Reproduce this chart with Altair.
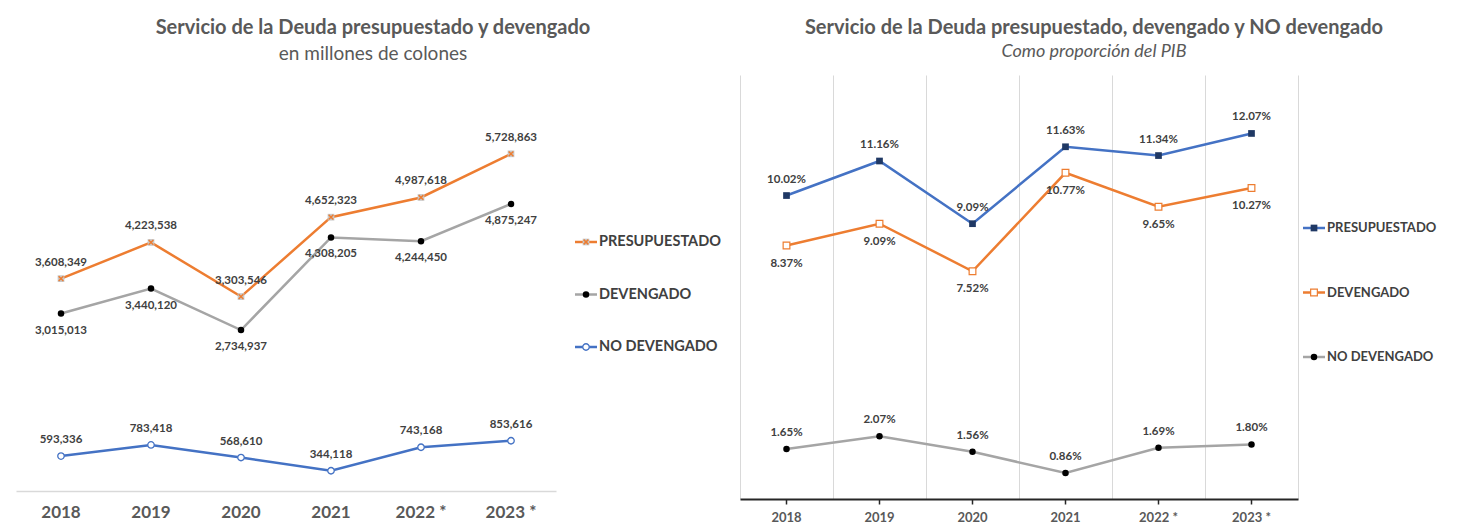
import altair as alt
import pandas as pd

years = ["2018", "2019", "2020", "2021", "2022 *", "2023 *"]
series = ["PRESUPUESTADO", "DEVENGADO", "NO DEVENGADO"]

pres_mill = [3608349, 4223538, 3303546, 4652323, 4987618, 5728863]
dev_mill = [3015013, 3440120, 2734937, 4308205, 4244450, 4875247]
nodev_mill = [593336, 783418, 568610, 344118, 743168, 853616]

pres_pib = [10.02, 11.16, 9.09, 11.63, 11.34, 12.07]
dev_pib = [8.37, 9.09, 7.52, 10.77, 9.65, 10.27]
nodev_pib = [1.65, 2.07, 1.56, 0.86, 1.69, 1.80]

FONT = "Lato, sans-serif"
LABEL_COLOR = "#404040"
TITLE_COLOR = "#595959"


def long_df(vals_list):
    rows = []
    for s, vals in zip(series, vals_list):
        for y, v in zip(years, vals):
            rows.append({"year": y, "series": s, "value": v})
    return pd.DataFrame(rows)


dfL = long_df([pres_mill, dev_mill, nodev_mill])
dfL["label"] = dfL["value"].map(lambda v: f"{v:,.0f}")
dfR = long_df([pres_pib, dev_pib, nodev_pib])
dfR["label"] = dfR["value"].map(lambda v: f"{v:.2f}%")
dfLeg = pd.DataFrame({"series": series})

is_p = alt.datum.series == "PRESUPUESTADO"
is_d = alt.datum.series == "DEVENGADO"
is_n = alt.datum.series == "NO DEVENGADO"

txt_style = dict(font=FONT, fontSize=11.5, fontWeight="bold", color=LABEL_COLOR)

# ---------------- LEFT PANEL ----------------
colorL = alt.Color("series:N", scale=alt.Scale(domain=series, range=["#ED7D31", "#A5A5A5", "#4472C4"]), legend=None)
xL = alt.X("year:N", sort=years, scale=alt.Scale(type="band", paddingInner=0, paddingOuter=0), bandPosition=0.5,
           axis=alt.Axis(title=None, labelAngle=0, ticks=False, grid=False, domainColor="#D9D9D9", domainWidth=1.5,
                         labelFont=FONT, labelFontSize=17, labelFontWeight="bold", labelColor=TITLE_COLOR,
                         labelPadding=13))
yL = alt.Y("value:Q", scale=alt.Scale(domain=[0, 7068000], nice=False, zero=True), axis=None)
baseL = alt.Chart(dfL).encode(x=xL, y=yL)

lineL = baseL.mark_line(strokeWidth=2.5).encode(color=colorL, detail="series:N")
pL1 = baseL.transform_filter(is_p).mark_point(shape="square", filled=True, size=45, color="#C8C8C8", opacity=1)
pL1x = baseL.transform_filter(is_p).mark_point(shape="M-1,-1L1,1M1,-1L-1,1", size=22, filled=False,
                                                stroke="#ED7D31", strokeWidth=1.5, opacity=1)
pL2 = baseL.transform_filter(is_d).mark_point(shape="circle", filled=True, size=42, color="black", opacity=1)
pL3 = baseL.transform_filter(is_n).mark_point(shape="circle", filled=True, size=42, fill="white",
                                               stroke="#4472C4", strokeWidth=1.3, opacity=1)
tL1 = baseL.transform_filter(is_p).mark_text(dy=-16, **txt_style).encode(text="label:N")
tL2 = baseL.transform_filter(is_d).mark_text(dy=17, **txt_style).encode(text="label:N")
tL3 = baseL.transform_filter(is_n).mark_text(dy=-16, **txt_style).encode(text="label:N")

leftMain = alt.layer(lineL, pL1, pL1x, pL2, pL3, tL1, tL2, tL3).properties(width=540, height=416)

legYL = alt.Y("series:N", sort=series,
              scale=alt.Scale(type="point", domain=series, range=[167, 272], padding=0), axis=None)
legL_base = alt.Chart(dfLeg).encode(y=legYL)
lgL_rule = legL_base.mark_rule(strokeWidth=2.5).encode(x=alt.value(9), x2=alt.value(31), color=colorL)
lgL_p1 = legL_base.transform_filter(is_p).mark_point(shape="square", filled=True, size=45, color="#C8C8C8", opacity=1).encode(x=alt.value(20))
lgL_p1x = legL_base.transform_filter(is_p).mark_point(shape="M-1,-1L1,1M1,-1L-1,1", size=22, filled=False,
                                                       stroke="#ED7D31", strokeWidth=1.5, opacity=1).encode(x=alt.value(20))
lgL_p2 = legL_base.transform_filter(is_d).mark_point(shape="circle", filled=True, size=42, color="black", opacity=1).encode(x=alt.value(20))
lgL_p3 = legL_base.transform_filter(is_n).mark_point(shape="circle", filled=True, size=42, fill="white",
                                                      stroke="#4472C4", strokeWidth=1.3, opacity=1).encode(x=alt.value(20))
lgL_t = legL_base.mark_text(align="left", font=FONT, fontSize=14.5, fontWeight="bold", color=LABEL_COLOR).encode(
    x=alt.value(33), text="series:N")
leftLeg = alt.layer(lgL_rule, lgL_p1, lgL_p1x, lgL_p2, lgL_p3, lgL_t).properties(width=164, height=416)

leftGroup = alt.hconcat(leftMain, leftLeg, spacing=10).properties(
    title=alt.TitleParams(text="Servicio de la Deuda presupuestado y devengado", subtitle="en millones de colones",
                          anchor="middle", font=FONT, fontSize=20, fontWeight="bold", color=TITLE_COLOR,
                          subtitleFont=FONT, subtitleFontSize=19, subtitleColor=TITLE_COLOR,
                          subtitlePadding=7, offset=11))

# ---------------- RIGHT PANEL ----------------
colorR = alt.Color("series:N", scale=alt.Scale(domain=series, range=["#4472C4", "#ED7D31", "#A5A5A5"]), legend=None)
scaleXR = alt.Scale(type="band", paddingInner=0, paddingOuter=0)
xR_grid = alt.X("year:N", sort=years, scale=scaleXR, bandPosition=0.5,
                axis=alt.Axis(title=None, orient="top", grid=True, gridColor="#D9D9D9", gridWidth=1, tickBand="extent",
                              ticks=False, labels=False, domain=False))
xR_axis = alt.X("year:N", sort=years, scale=scaleXR, bandPosition=0.5,
                axis=alt.Axis(title=None, orient="bottom", grid=False, labelAngle=0, domainColor="#262626", domainWidth=2,
                              tickColor="#262626", tickSize=5, tickWidth=1.5, labelFont=FONT, labelFontSize=13,
                              labelFontWeight="bold", labelColor=TITLE_COLOR, labelPadding=7))
xR_none = alt.X("year:N", sort=years, scale=scaleXR, bandPosition=0.5, axis=None)
yR = alt.Y("value:Q", scale=alt.Scale(domain=[0, 14], nice=False, zero=True), axis=None)

lineR = alt.Chart(dfR).mark_line(strokeWidth=2.5).encode(x=xR_grid, y=yR, color=colorR, detail="series:N")
baseR = alt.Chart(dfR).encode(x=xR_none, y=yR)
pR1 = alt.Chart(dfR).transform_filter(is_p).mark_point(shape="square", filled=True, size=45, color="#1F3864", opacity=1).encode(x=xR_axis, y=yR)
pR2 = baseR.transform_filter(is_d).mark_point(shape="square", filled=True, size=45, fill="white", stroke="#ED7D31",
                                               strokeWidth=1.2, opacity=1)
pR3 = baseR.transform_filter(is_n).mark_point(shape="circle", filled=True, size=42, color="black", opacity=1)
tR1 = baseR.transform_filter(is_p).mark_text(dy=-16, **txt_style).encode(text="label:N")
tR2 = baseR.transform_filter(is_d).mark_text(dy=18, **txt_style).encode(text="label:N")
tR3 = baseR.transform_filter(is_n).mark_text(dy=-16, **txt_style).encode(text="label:N")

rightMain = alt.layer(lineR, pR1, pR2, pR3, tR1, tR2, tR3).resolve_axis(x="independent").properties(width=558, height=424)

legYR = alt.Y("series:N", sort=series,
              scale=alt.Scale(type="point", domain=series, range=[153, 282], padding=0), axis=None)
legR_base = alt.Chart(dfLeg).encode(y=legYR)
lgR_rule = legR_base.mark_rule(strokeWidth=2.5).encode(x=alt.value(5), x2=alt.value(27), color=colorR)
lgR_p1 = legR_base.transform_filter(is_p).mark_point(shape="square", filled=True, size=45, color="#1F3864", opacity=1).encode(x=alt.value(16))
lgR_p2 = legR_base.transform_filter(is_d).mark_point(shape="square", filled=True, size=45, fill="white",
                                                      stroke="#ED7D31", strokeWidth=1.2, opacity=1).encode(x=alt.value(16))
lgR_p3 = legR_base.transform_filter(is_n).mark_point(shape="circle", filled=True, size=42, color="black", opacity=1).encode(x=alt.value(16))
lgR_t = legR_base.mark_text(align="left", font=FONT, fontSize=13, fontWeight="bold", color=LABEL_COLOR).encode(
    x=alt.value(29), text="series:N")
rightLeg = alt.layer(lgR_rule, lgR_p1, lgR_p2, lgR_p3, lgR_t).properties(width=150, height=424)

rightGroup = alt.hconcat(rightMain, rightLeg, spacing=0).properties(
    title=alt.TitleParams(text="Servicio de la Deuda presupuestado, devengado y NO devengado",
                          subtitle="Como proporción del PIB",
                          anchor="middle", font=FONT, fontSize=20, fontWeight="bold", color=TITLE_COLOR,
                          subtitleFont=FONT, subtitleFontSize=18, subtitleFontStyle="italic", subtitleColor=TITLE_COLOR,
                          subtitlePadding=5, offset=14))

chart = alt.hconcat(leftGroup, rightGroup, spacing=10).properties(
    padding={"left": 8, "top": 10, "right": 5, "bottom": 0}
).resolve_scale(color="independent").configure_view(strokeWidth=0)

chart.save("out.html", embed_options={"renderer": "svg", "actions": False})
